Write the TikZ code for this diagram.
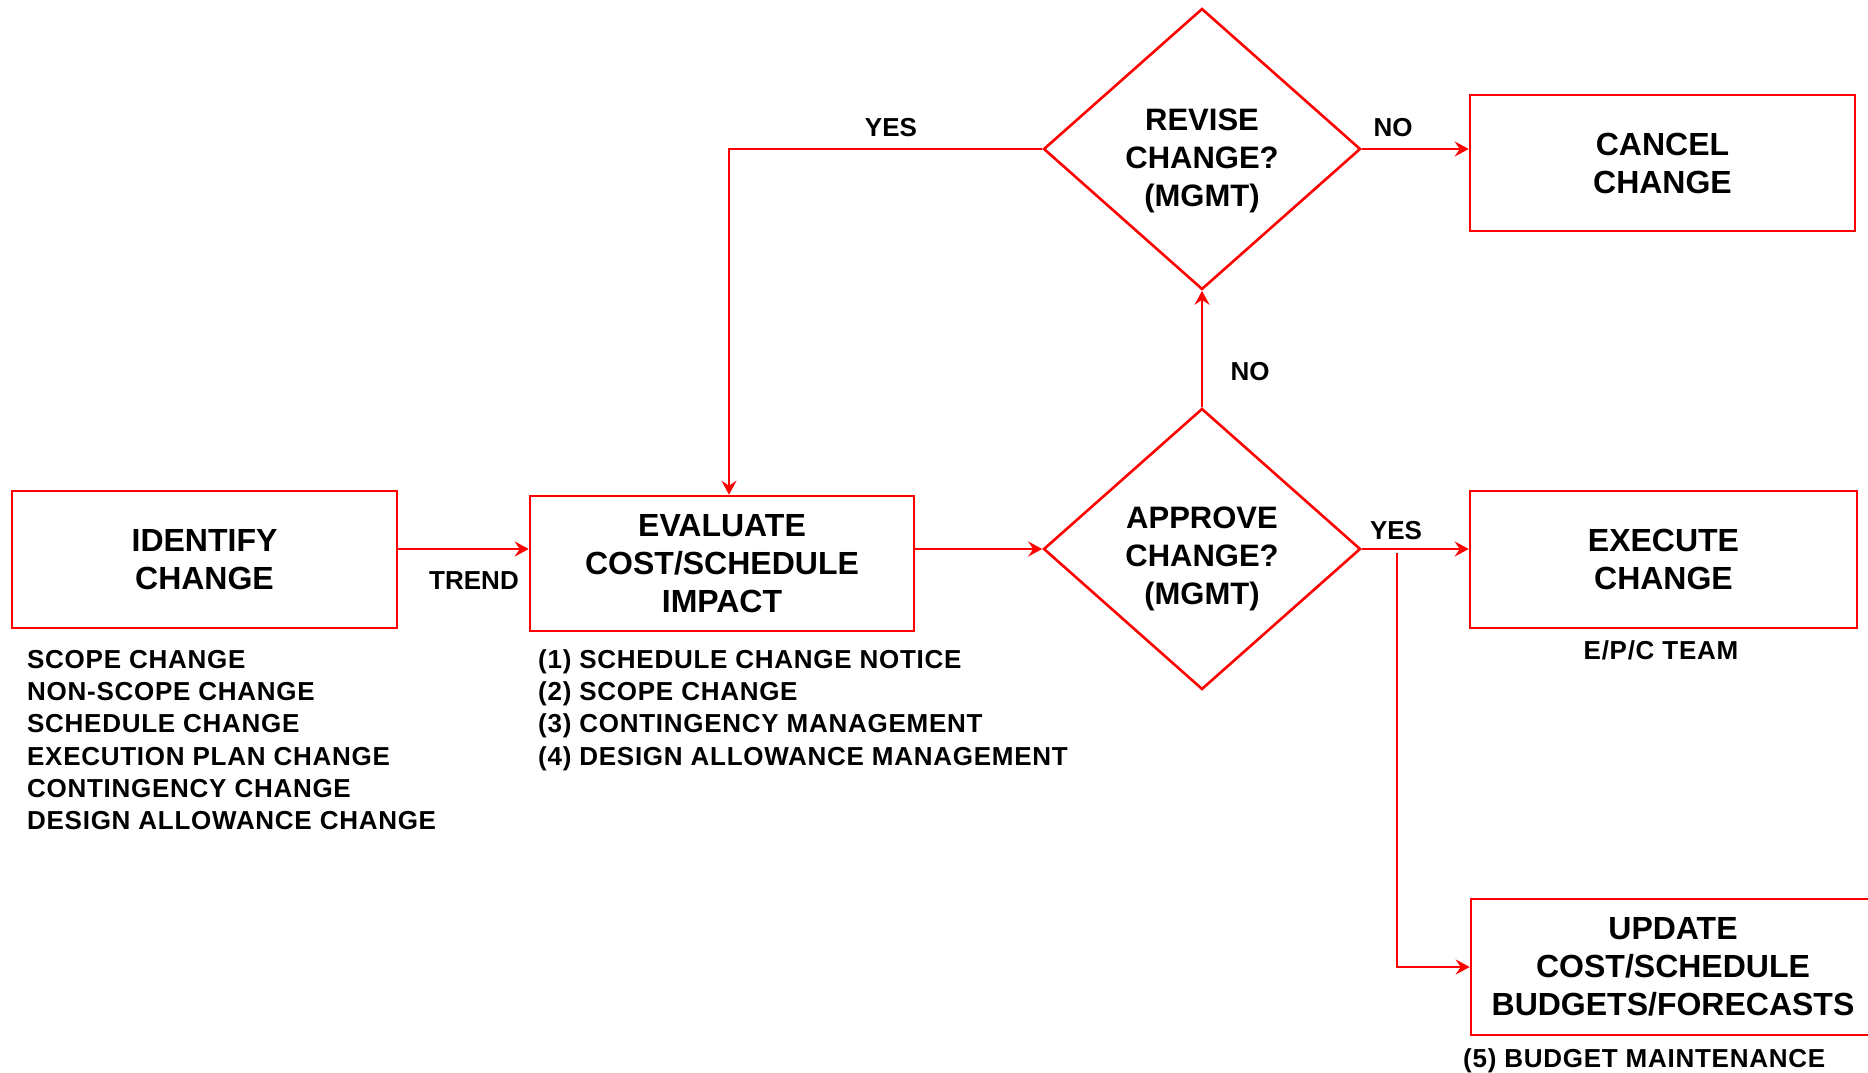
\documentclass[tikz,border=0pt]{standalone}
\usepackage{fontspec}
\setmainfont{Liberation Sans}
\newfontfamily\spacedfont[LetterSpace=2.8]{Liberation Sans}
\usetikzlibrary{shapes.geometric,arrows.meta}
\definecolor{flowred}{RGB}{255,0,0}
\begin{document}
\begin{tikzpicture}[x=1pt,y=-1pt,
  procbox/.style={draw=flowred, line width=2.6pt, inner sep=0pt, align=center,
    font=\fontsize{32}{38}\selectfont\bfseries},
  decision/.style={diamond, draw=flowred, line width=2.6pt, inner sep=0pt,
    minimum width=317pt, minimum height=281pt},
  dtext/.style={inner sep=0pt, align=center,
    font=\fontsize{31}{38}\selectfont\bfseries},
  flow/.style={draw=flowred, line width=2.6pt,
    -{Stealth[length=14pt,width=15pt,inset=5pt]}},
  lbl/.style={font=\fontsize{26}{32}\selectfont\bfseries, inner sep=0pt, anchor=base},
  listtxt/.style={inner sep=0pt, anchor=base west,
    font=\spacedfont\fontsize{26}{32}\selectfont\bfseries}]

\useasboundingbox (0,0) rectangle (1868,1073);

% process boxes
\node[procbox, minimum width=385pt, minimum height=137pt] (ident) at (204.5,559.5) {IDENTIFY\\CHANGE};
\node[procbox, minimum width=384pt, minimum height=135pt] (eval) at (722,563.5) {EVALUATE\\COST/SCHEDULE\\IMPACT};
\node[procbox, minimum width=385pt, minimum height=136pt] (cancel) at (1662.5,163) {CANCEL\\CHANGE};
\node[procbox, minimum width=387pt, minimum height=137pt] (exec) at (1663.5,559.5) {EXECUTE\\CHANGE};
\node[procbox, minimum width=404pt, minimum height=136pt] (upd) at (1673,967) {UPDATE\\COST/SCHEDULE\\BUDGETS/FORECASTS};

% decisions, with their questions set a little below the centre
\node[decision] (revise) at (1202,149) {};
\node[dtext] (revise-q) at ([yshift=-12pt]revise.center) {REVISE\\CHANGE?\\(MGMT)};
\node[decision] (approve) at (1202,549) {};
\node[dtext] (approve-q) at ([yshift=-10pt]approve.center) {APPROVE\\CHANGE?\\(MGMT)};

% connectors
\draw[flow] (ident.east |- approve.west) -- (eval.west |- approve.west);
\draw[flow] (eval.east |- approve.west) -- (approve.west);
\draw[flow] (approve.north) -- (revise.south);
\draw[flow] (revise.west) -| ([xshift=7pt]eval.north);
\draw[flow] (revise.east) -- (cancel.west |- revise.east);
\draw[flow] (approve.east) -- (exec.west |- approve.east);
\coordinate (branch) at (1397,553);
\draw[flow] (branch) |- (upd.west);

% connector labels
\node[lbl] (ltrend) at (474,589.5) {TREND};
\node[lbl] (lyesrev) at (891,136) {YES};
\node[lbl] (lnocan) at (1393,136) {NO};
\node[lbl] (lnorev) at (1250,380) {NO};
\node[lbl] (lyesexe) at (1396,539) {YES};
\node[lbl, font=\spacedfont\fontsize{26}{32}\selectfont\bfseries] (lteam) at (1661,659) {E/P/C TEAM};
\node[listtxt] (lbudget) at (1463,1067) {(5) BUDGET MAINTENANCE};

% change types
\foreach \t [count=\i] in {SCOPE CHANGE, NON-SCOPE CHANGE, SCHEDULE CHANGE,
    EXECUTION PLAN CHANGE, CONTINGENCY CHANGE, DESIGN ALLOWANCE CHANGE}
  \node[listtxt] (kind\i) at (27,668.5+32.2*\i-32.2) {\t};

% evaluation procedures
\foreach \t [count=\i] in {(1) SCHEDULE CHANGE NOTICE, (2) SCOPE CHANGE,
    (3) CONTINGENCY MANAGEMENT, (4) DESIGN ALLOWANCE MANAGEMENT}
  \node[listtxt] (proc\i) at (538,668.5+32.2*\i-32.2) {\t};
\end{tikzpicture}
\end{document}
